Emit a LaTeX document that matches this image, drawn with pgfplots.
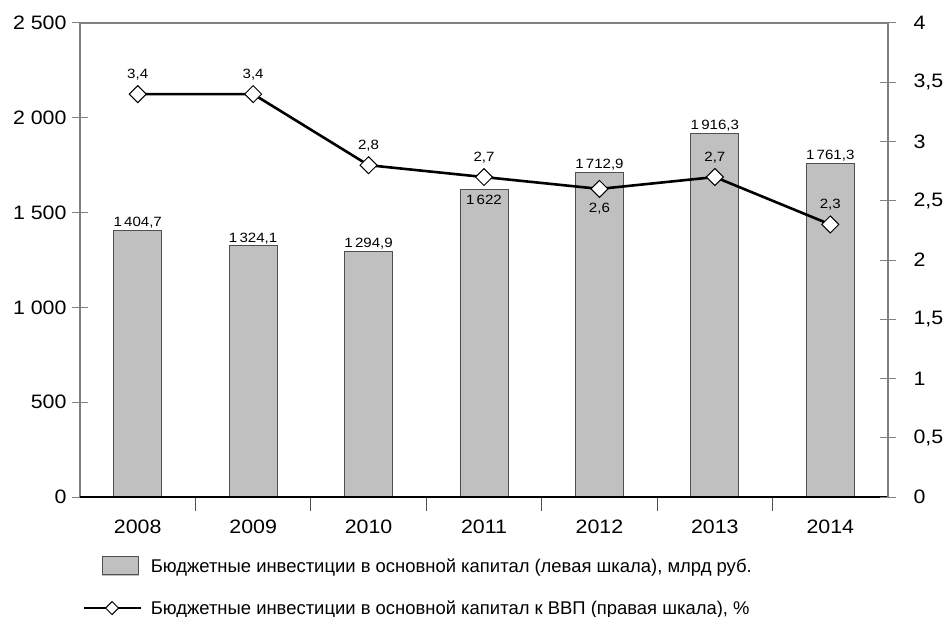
\documentclass[border=0pt]{standalone}
\usepackage{fontspec}
\setmainfont{Liberation Sans}
\newfontfamily\tickfont{Liberation Sans}[FakeStretch=1.1]
\newfontfamily\labfont{Liberation Sans}[FakeStretch=1.12]
\usepackage{pgfplots}
\pgfplotsset{compat=1.18}
\definecolor{barfill}{HTML}{C0C0C0}
\definecolor{bardraw}{HTML}{505050}
\definecolor{axgray}{HTML}{808080}

\pgfplotsset{
  barlab/.style={
    nodes near coords={\pgfmathprintnumber[fixed, precision=1, use comma, 1000 sep={\,}, assume math mode=true]{\pgfplotspointmeta}},
    every node near coord/.append style={anchor=#1, inner sep=2bp, font=\labfont\fontsize{13.5}{14}\selectfont, text=black},
  },
  linelab/.style={
    nodes near coords={\pgfmathprintnumber[fixed, precision=1, use comma, assume math mode=true]{\pgfplotspointmeta}},
    every node near coord/.append style={anchor=#1, inner sep=2bp, font=\labfont\fontsize{13.5}{14}\selectfont, text=black},
  },
}

\begin{document}
\begin{tikzpicture}
\begin{axis}[
  name=left,
  scale only axis, width=808bp, height=474bp,
  xmin=-0.5, xmax=6.5, ymin=0, ymax=2500,
  xtick={0,...,6}, xticklabels={2008,2009,2010,2011,2012,2013,2014},
  minor xtick={0.5,1.5,...,5.5},
  major x tick style={draw=none},
  minor tick length=14bp,
  major tick length=16bp,
  tick align=center,
  xtick pos=bottom, ytick pos=left,
  ytick={0,500,...,2500},
  axis line style={axgray, line width=1.5bp},
  tick style={axgray, line width=1bp},
  minor tick style={bardraw, line width=1bp},
  /pgf/number format/1000 sep={\ },
  /pgf/number format/assume math mode=true,
  ticklabel style={font=\tickfont\fontsize{19.5}{20}\selectfont},
  xticklabel style={yshift=-3bp},
  yticklabel style={xshift=-2bp},
  ybar, bar width=0.416, bar shift=0pt,
  clip=false,
]
% bars
\addplot[fill=barfill, draw=bardraw, line width=0.9bp] coordinates {
  (0,1404.7) (1,1324.1) (2,1294.9) (3,1622) (4,1712.9) (5,1916.3) (6,1761.3)};
% bar labels above
\addplot[draw=none, fill=none, barlab=south] coordinates {
  (0,1404.7) (1,1324.1) (2,1294.9) (4,1712.9) (5,1916.3) (6,1761.3)};
% bar label inside
\addplot[draw=none, fill=none, barlab=north,
  every node near coord/.append style={yshift=-3bp}] coordinates {(3,1622)};
\draw[black, line width=1.2bp] (rel axis cs:0,0) -- (rel axis cs:1,0);
\end{axis}

\begin{axis}[
  scale only axis, width=808bp, height=474bp,
  xmin=-0.5, xmax=6.5, ymin=0, ymax=4,
  hide x axis,
  axis y line*=right,
  axis line style={-, axgray, line width=1.5bp},
  ytick={0,0.5,...,4},
  major tick length=16bp,
  tick align=center,
  tick style={axgray, line width=1bp},
  /pgf/number format/use comma,
  /pgf/number format/assume math mode=true,
  ticklabel style={font=\tickfont\fontsize{19.5}{20}\selectfont},
  yticklabel style={xshift=14bp},
  clip=false,
  legend style={at={(rel axis cs:0.0025,-0.125)}, anchor=north west, draw=none, fill=none,
    inner sep=0pt, column sep=9bp, row sep=25bp,
    font=\fontsize{18.5}{19}\selectfont, nodes={inner sep=0pt}},
  legend cell align=left,
]
\addplot[black, line width=2.6bp, mark=square*, mark size=6bp,
  mark options={rotate=45, fill=white, draw=black, line width=1bp},
  forget plot] coordinates {
  (0,3.4) (1,3.4) (2,2.8) (3,2.7) (4,2.6) (5,2.7) (6,2.3)};
\addplot[draw=none, mark=none, forget plot, linelab=south,
  every node near coord/.append style={yshift=12bp}] coordinates {
  (0,3.4) (1,3.4) (2,2.8) (3,2.7) (5,2.7) (6,2.3)};
\addplot[draw=none, mark=none, forget plot, linelab=north,
  every node near coord/.append style={yshift=-12bp}] coordinates {(4,2.6)};
\addlegendimage{legend image code/.code={
  \path[draw=none, fill=none] (0bp,0bp) -- (57bp,0bp);
  \fill[barfill] (19bp,-9bp) rectangle (55bp,9bp);
  \draw[bardraw, line width=1bp] (19bp,-9bp) rectangle (55bp,9bp);}}
\addlegendentry{Бюджетные инвестиции в основной капитал (левая шкала), млрд руб.}
\addlegendimage{legend image code/.code={
  \draw[black, line width=2.6bp] (0bp,0bp) -- (57bp,0bp);
  \draw[fill=white, draw=black, line width=1bp] (28.5bp,6.5bp) -- (35bp,0bp) -- (28.5bp,-6.5bp) -- (22bp,0bp) -- cycle;}}
\addlegendentry{Бюджетные инвестиции в основной капитал к ВВП (правая шкала), \%}
\end{axis}
\pgfresetboundingbox
\path (left.south west) ++(-80bp,-120bp) rectangle ++(944bp,617bp);
\end{tikzpicture}
\end{document}
